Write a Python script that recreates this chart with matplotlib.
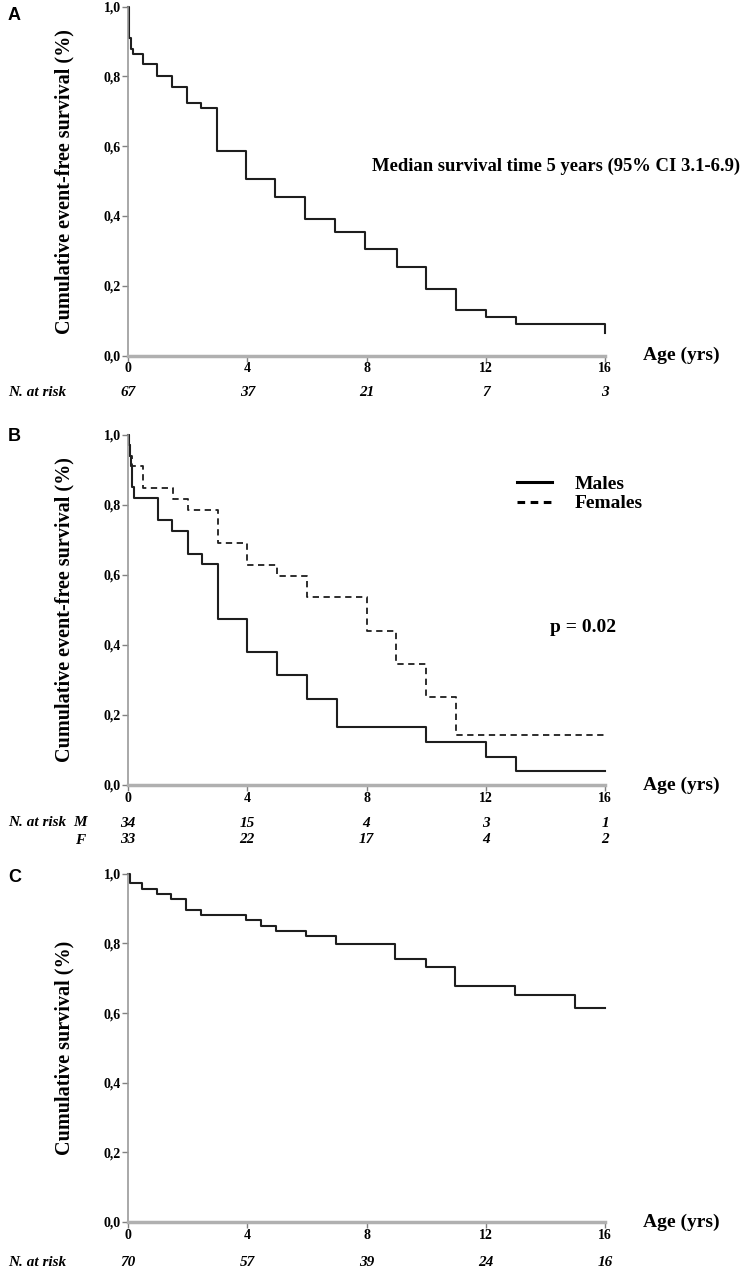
import numpy as np
import matplotlib
matplotlib.use('Agg')
import matplotlib.pyplot as plt
from matplotlib.lines import Line2D

plt.rcParams['font.family'] = ['Liberation Serif', 'DejaVu Serif']

# panel A: event-free survival, whole cohort
a_time = [0, 0.02, 0.05, 0.1, 0.18, 0.49, 0.96, 1.48, 1.97, 2.46, 2.98, 3.97, 4.94,
          5.94, 6.93, 7.94, 9.02, 10.0, 11.0, 12.0, 13.0, 16.0, 16.0]
a_surv = [1.0, 0.97, 0.91, 0.88, 0.865, 0.835, 0.80, 0.77, 0.725, 0.71, 0.585, 0.505,
          0.455, 0.39, 0.355, 0.305, 0.255, 0.19, 0.13, 0.11, 0.09, 0.09, 0.065]
a_risk = [67, 37, 21, 7, 3]

# panel B: by sex
m_time = [0, 0.03, 0.06, 0.09, 0.12, 0.15, 0.2, 0.99, 1.49, 2.01, 2.49, 3.01, 4.0,
          4.99, 6.0, 7.0, 10.0, 12.0, 13.0, 16.0]
m_surv = [1.0, 0.97, 0.94, 0.91, 0.88, 0.85, 0.82, 0.757, 0.726, 0.661, 0.631, 0.473,
          0.379, 0.315, 0.246, 0.165, 0.122, 0.081, 0.040, 0.040]
f_time = [0, 0.05, 0.08, 0.12, 0.51, 1.52, 2.02, 3.01, 4.0, 5.0, 6.0, 8.02, 8.99,
          10.0, 11.0, 16.0]
f_surv = [1.0, 0.97, 0.94, 0.91, 0.849, 0.818, 0.787, 0.692, 0.629, 0.597, 0.536,
          0.44, 0.345, 0.252, 0.144, 0.144]
m_risk = [34, 15, 4, 3, 1]
f_risk = [33, 22, 17, 4, 2]

# panel C: overall survival
c_time = [0, 0.06, 0.46, 0.96, 1.44, 1.96, 2.45, 3.97, 4.47, 4.97, 5.98, 6.97, 8.97,
          9.98, 10.98, 12.98, 14.98, 16.0]
c_surv = [1.0, 0.972, 0.957, 0.941, 0.927, 0.896, 0.881, 0.866, 0.851, 0.836, 0.82,
          0.799, 0.755, 0.733, 0.679, 0.652, 0.615, 0.615]
c_risk = [70, 57, 39, 24, 16]

xticks = [0, 4, 8, 12, 16]
yticks = [0.0, 0.2, 0.4, 0.6, 0.8, 1.0]
ytlabels = ['0,0', '0,2', '0,4', '0,6', '0,8', '1,0']

W, H = 743, 1269
fig = plt.figure(figsize=(W / 100, H / 100), dpi=100)

def make_ax(top_px, bot_px):
    left, right = 128, 605
    return fig.add_axes([left / W, 1 - bot_px / H, (right - left) / W, (bot_px - top_px) / H])

def style(ax, ylabel):
    ax.set_xlim(0, 16)
    ax.set_ylim(0, 1)
    for s in ['top', 'right']:
        ax.spines[s].set_visible(False)
    ax.spines['left'].set_color('#9a9a9a')
    ax.spines['left'].set_linewidth(1.2)
    ax.spines['bottom'].set_color('#b0b0b0')
    ax.spines['bottom'].set_linewidth(2.5)
    ax.set_xticks(xticks)
    ax.set_xticklabels([str(t) for t in xticks])
    ax.set_yticks(yticks)
    ax.set_yticklabels(ytlabels)
    ax.tick_params(axis='both', direction='out', length=4, width=1, color='#808080',
                   labelsize=10, pad=1)
    for lab in ax.get_xticklabels() + ax.get_yticklabels():
        lab.set_fontweight('bold')
    ax.set_ylabel(ylabel, fontsize=14.5, fontweight='bold')
    ax.yaxis.set_label_coords(-0.113, 0.5)
    ax.text(1.08, 0.0, 'Age (yrs)', transform=ax.transAxes, fontsize=14,
            fontweight='bold', ha='left', va='center')

def risk_row(ax, yfrac, values):
    tr = ax.get_xaxis_transform()
    for x, v in zip(xticks, values):
        ax.text(x, yfrac, str(v), transform=tr, ha='center', va='center',
                fontsize=11, fontweight='bold', style='italic', clip_on=False)

lc = '#1e1e1e'

# ---- A
axA = make_ax(6.7, 355.5)
style(axA, 'Cumulative event-free survival (%)')
axA.step(a_time, a_surv, where='post', color=lc, lw=1.5, clip_on=False)
axA.text(0.512, 0.543, 'Median survival time 5 years (95% CI 3.1-6.9)',
         transform=axA.transAxes, fontsize=13.4, fontweight='bold', va='center', ha='left')
risk_row(axA, -0.105, a_risk)
fig.text(8 / W, 1 - 392 / H, 'N. at risk', fontsize=11, fontweight='bold',
         style='italic', va='center', ha='left')

# ---- B
axB = make_ax(435, 785)
style(axB, 'Cumulative event-free survival (%)')
axB.step(m_time, m_surv, where='post', color=lc, lw=1.5, clip_on=False)
axB.step(f_time, f_surv, where='post', color=lc, lw=1.3, ls=(0, (3.5, 2.5)), clip_on=False)
handles = [Line2D([], [], color='black', lw=2.2),
           Line2D([], [], color='black', lw=2.2, ls=(0, (2.5, 1.8)))]
axB.legend(handles, ['Males', 'Females'], loc='upper left', bbox_to_anchor=(0.815, 0.885),
           frameon=False, prop={'size': 14, 'weight': 'bold'}, handlelength=1.8,
           handletextpad=1.2, labelspacing=0.1, borderpad=0, borderaxespad=0)
axB.text(0.954, 0.449, 'p = 0.02', transform=axB.transAxes, fontsize=14,
         fontweight='bold', ha='center', va='center')
risk_row(axB, -0.109, m_risk)
risk_row(axB, -0.157, f_risk)
fig.text(8 / W, 1 - 823 / H, 'N. at risk', fontsize=11, fontweight='bold',
         style='italic', va='center', ha='left')
fig.text(80 / W, 1 - 823 / H, 'M', fontsize=11, fontweight='bold', style='italic',
         va='center', ha='center')
fig.text(80 / W, 1 - 840 / H, 'F', fontsize=11, fontweight='bold', style='italic',
         va='center', ha='center')

# ---- C
axC = make_ax(873.7, 1222)
style(axC, 'Cumulative survival (%)')
axC.step(c_time, c_surv, where='post', color=lc, lw=1.5, clip_on=False)
risk_row(axC, -0.115, c_risk)
fig.text(8 / W, 1 - 1262 / H, 'N. at risk', fontsize=11, fontweight='bold',
         style='italic', va='center', ha='left')

for letter, ypx in [('A', 15), ('B', 437), ('C', 877)]:
    fig.text(8 / W, 1 - ypx / H, letter, fontsize=13, fontweight='bold',
             family='Liberation Sans', va='center', ha='left')

fig.savefig('out.png', dpi=100)
